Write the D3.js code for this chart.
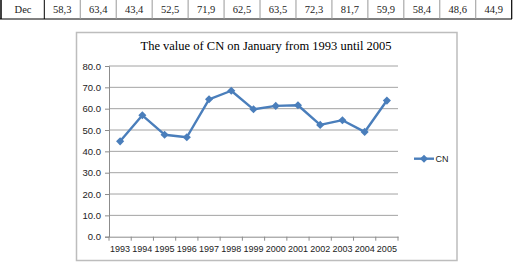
<!DOCTYPE html>
<html>
<head>
<meta charset="utf-8">
<script src="https://cdn.jsdelivr.net/npm/d3@7"></script>
<style>
  body { margin: 0; background: #fff; }
  svg { display: block; }
</style>
</head>
<body>
<div id="chart"></div>
<script>
// table row above the chart
var tableLabel = "Dec";
var tableValues = ["58,3", "63,4", "43,4", "52,5", "71,9", "62,5", "63,5", "72,3", "81,7", "59,9", "58,4", "48,6", "44,9"];

// chart data
var years = ["1993", "1994", "1995", "1996", "1997", "1998", "1999", "2000", "2001", "2002", "2003", "2004", "2005"];
var cnValues = [44.7, 56.9, 47.8, 46.6, 64.4, 68.4, 59.7, 61.3, 61.6, 52.4, 54.6, 49.1, 63.8];
var yTicks = [0, 10, 20, 30, 40, 50, 60, 70, 80];
var chartTitle = "The value of CN on January from 1993 until 2005";
var seriesName = "CN";

var W = 517, H = 267;
var svg = d3.select("#chart").append("svg")
    .attr("width", W)
    .attr("height", H);

// --- table row ---
var table = svg.append("g");
var cellX = d3.scaleBand()
    .domain(tableValues.map((d, i) => i))
    .range([44.3, 511.7]);

table.append("line")
    .attr("x1", 0).attr("x2", 512).attr("y1", 19).attr("y2", 19)
    .attr("stroke", "#000").attr("stroke-width", 1);
table.append("line")
    .attr("x1", 1).attr("x2", 1).attr("y1", 0).attr("y2", 19)
    .attr("stroke", "#000").attr("stroke-width", 1.5);
table.append("text")
    .attr("x", 23).attr("y", 12.5)
    .attr("text-anchor", "middle")
    .style("font-family", "'Liberation Serif', serif")
    .style("font-size", "10.5px")
    .attr("fill", "#222")
    .text(tableLabel);
table.selectAll(".sep")
    .data(tableValues)
    .join("line")
    .attr("x1", (d, i) => cellX(i))
    .attr("x2", (d, i) => cellX(i))
    .attr("y1", 0).attr("y2", 19)
    .attr("stroke", (d, i) => i == 0 ? "#000" : "#999")
    .attr("stroke-width", 1);
table.append("line")
    .attr("x1", 511.7).attr("x2", 511.7).attr("y1", 0).attr("y2", 19)
    .attr("stroke", "#000").attr("stroke-width", 1.2);
table.selectAll(".cell")
    .data(tableValues)
    .join("text")
    .attr("x", (d, i) => cellX(i) + cellX.bandwidth() / 2)
    .attr("y", 12.5)
    .attr("text-anchor", "middle")
    .style("font-family", "'Liberation Serif', serif")
    .style("font-size", "10.5px")
    .attr("fill", "#222")
    .text(d => d);

// --- chart frame ---
svg.append("rect")
    .attr("x", 76.5).attr("y", 32.5)
    .attr("width", 380.5).attr("height", 228)
    .attr("fill", "#fff")
    .attr("stroke", "#bdbdbd")
    .attr("stroke-width", 1.5);

svg.append("text")
    .attr("x", 266).attr("y", 50)
    .attr("text-anchor", "middle")
    .style("font-family", "'Liberation Serif', serif")
    .style("font-size", "12.5px")
    .text(chartTitle);

// plot area
var margin = {left: 109, right: 398, top: 66, bottom: 236.7};

var x = d3.scaleBand()
    .domain(years)
    .range([margin.left, margin.right]);

var y = d3.scaleLinear()
    .domain([0, 80])
    .range([margin.bottom, margin.top]);

// gridlines
svg.append("g")
    .selectAll("line")
    .data(yTicks.slice(1))
    .join("line")
    .attr("x1", margin.left).attr("x2", margin.right)
    .attr("y1", d => y(d)).attr("y2", d => y(d))
    .attr("stroke", "#8c8c8c")
    .attr("stroke-width", 0.8);

// y axis
var yAxis = svg.append("g")
    .attr("transform", "translate(" + margin.left + ",0)")
    .call(d3.axisLeft(y).tickValues(yTicks).tickFormat(d3.format(".1f")).tickSize(4).tickPadding(4));
yAxis.select(".domain").attr("stroke", "#8c8c8c");
yAxis.selectAll(".tick line").attr("stroke", "#8c8c8c");
yAxis.selectAll("text")
    .style("font-family", "'Liberation Sans', sans-serif")
    .style("font-size", "9.5px")
    .attr("fill", "#222");

// x axis: ticks at the category boundaries
var xAxis = svg.append("g")
    .attr("transform", "translate(0," + margin.bottom + ")")
    .call(d3.axisBottom(x).tickSize(0).tickPadding(9));
xAxis.select(".domain").attr("stroke", "#8c8c8c");
xAxis.selectAll("text")
    .style("font-family", "'Liberation Sans', sans-serif")
    .style("font-size", "9px")
    .attr("fill", "#222");
xAxis.selectAll(".bound")
    .data(years.concat([null]))
    .join("line")
    .attr("x1", (d, i) => margin.left + i * x.step())
    .attr("x2", (d, i) => margin.left + i * x.step())
    .attr("y1", 0).attr("y2", 4)
    .attr("stroke", "#8c8c8c");

// series line
var line = d3.line()
    .x((d, i) => x(years[i]) + x.bandwidth() / 2)
    .y(d => y(d));

svg.append("path")
    .datum(cnValues)
    .attr("d", line)
    .attr("fill", "none")
    .attr("stroke", "#4a7ebb")
    .attr("stroke-width", 2.4)
    .attr("stroke-linejoin", "round");

var diamond = d3.symbol().type(d3.symbolDiamond2).size(42);
svg.selectAll(".pt")
    .data(cnValues)
    .join("path")
    .attr("d", diamond)
    .attr("transform", (d, i) => "translate(" + (x(years[i]) + x.bandwidth() / 2) + "," + y(d) + ")")
    .attr("fill", "#4a7ebb");

// legend
var legend = svg.append("g").attr("transform", "translate(414,158.7)");
legend.append("line")
    .attr("x1", 0).attr("x2", 20)
    .attr("stroke", "#4a7ebb")
    .attr("stroke-width", 2.4);
legend.append("path")
    .attr("d", diamond)
    .attr("transform", "translate(10,0)")
    .attr("fill", "#4a7ebb");
legend.append("text")
    .attr("x", 21.5).attr("y", 3.3)
    .style("font-family", "'Liberation Sans', sans-serif")
    .style("font-size", "9px")
    .attr("fill", "#222")
    .text(seriesName);
</script>
</body>
</html>
